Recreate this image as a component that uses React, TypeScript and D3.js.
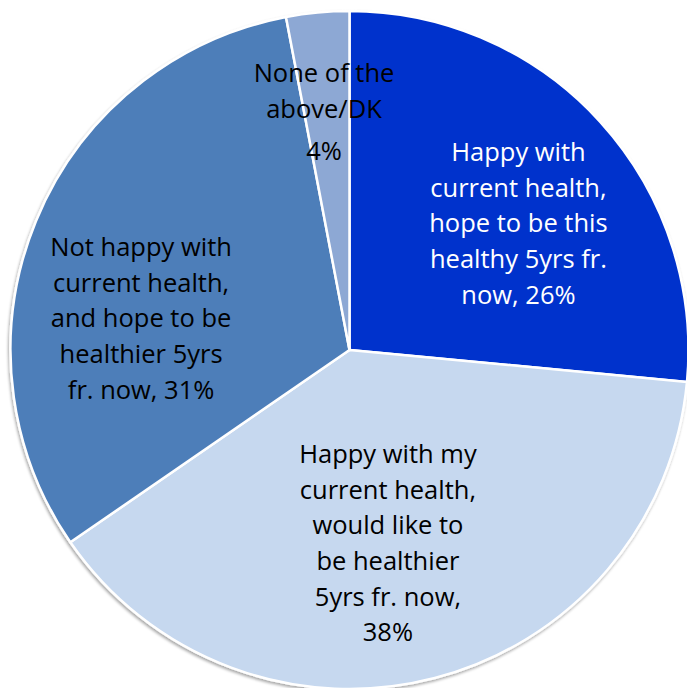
import React from "react";
import * as d3 from "d3";

const categories = [
  "Happy with current health, hope to be this healthy 5yrs fr. now",
  "Happy with my current health, would like to be healthier 5yrs fr. now",
  "Not happy with current health, and hope to be healthier 5yrs fr. now",
  "None of the above/DK",
];
const values = [26.5, 38.9, 31.6, 3.0];
const labelLines = [
  ["Happy with", "current health,", "hope to be this", "healthy 5yrs fr.", "now, 26%"],
  ["Happy with my", "current health,", "would like to", "be healthier", "5yrs fr. now,", "38%"],
  ["Not happy with", "current health,", "and hope to be", "healthier 5yrs", "fr. now, 31%"],
  ["None of the", "above/DK", "4%"],
];
const colors = ["#0033CC", "#C6D8EF", "#4E7EB9", "#8DA8D4"];
const textColors = ["#FFFFFF", "#000000", "#000000", "#000000"];
// first-line offsets from arc centroid (px)
const labelOffsets = [
  [13.5, -55.6],
  [-14.5, -98.4],
  [-14, -22.2],
  [-5.7, -66.7],
];
// extra spacing (px) added after line index, per label
const extraGaps = [{}, {}, {}, { 1: 7 }] as Record<number, number>[];

export default function App() {
  const W = 687;
  const H = 688;
  const cx = 349.5;
  const cy = 350;
  const r = 339;
  const pie = d3.pie<number>().sort(null).value((d) => d).startAngle(0).endAngle(2 * Math.PI);
  const arcs = pie(values);
  const arc = d3.arc<d3.PieArcDatum<number>>().innerRadius(0).outerRadius(r);
  const labelArc = d3.arc<d3.PieArcDatum<number>>().innerRadius(r * 0.62).outerRadius(r * 0.62);
  const fontSize = 25.5;
  const lineH = 35.6;

  return (
    <svg
      width={W}
      height={H}
      style={{ position: "absolute", left: 0, top: 0, fontFamily: "'Open Sans', Lato, sans-serif" }}
    >
      <defs>
        <filter id="sh" x="-10%" y="-10%" width="120%" height="120%">
          <feGaussianBlur in="SourceAlpha" stdDeviation="1.5" />
          <feOffset dx="-1" dy="2" result="b" />
          <feComponentTransfer>
            <feFuncA type="linear" slope="0.35" />
          </feComponentTransfer>
          <feMerge>
            <feMergeNode />
            <feMergeNode in="SourceGraphic" />
          </feMerge>
        </filter>
      </defs>
      <rect width={W} height={H} fill="#fff" />
      <g transform={`translate(${cx},${cy})`} filter="url(#sh)">
        {arcs.map((a, i) => (
          <path key={categories[i]} d={arc(a) || ""} fill={colors[i]} stroke="#fff" strokeWidth={2.5} strokeLinejoin="round" />
        ))}
      </g>
      <g transform={`translate(${cx},${cy})`}>
        {arcs.map((a, i) => {
          const [x, y] = labelArc.centroid(a);
          const lx = x + labelOffsets[i][0];
          const ly = y + labelOffsets[i][1];
          const lines = labelLines[i];
          let acc = 0;
          return (
            <text key={"l" + i} x={lx} textAnchor="middle" fontSize={fontSize} fill={textColors[i]}>
              {lines.map((t, j) => {
                const yy = ly + j * lineH + acc + fontSize * 0.32;
                acc += extraGaps[i][j] || 0;
                return (
                  <tspan key={j} x={lx} y={yy}>
                    {t}
                  </tspan>
                );
              })}
            </text>
          );
        })}
      </g>
    </svg>
  );
}
